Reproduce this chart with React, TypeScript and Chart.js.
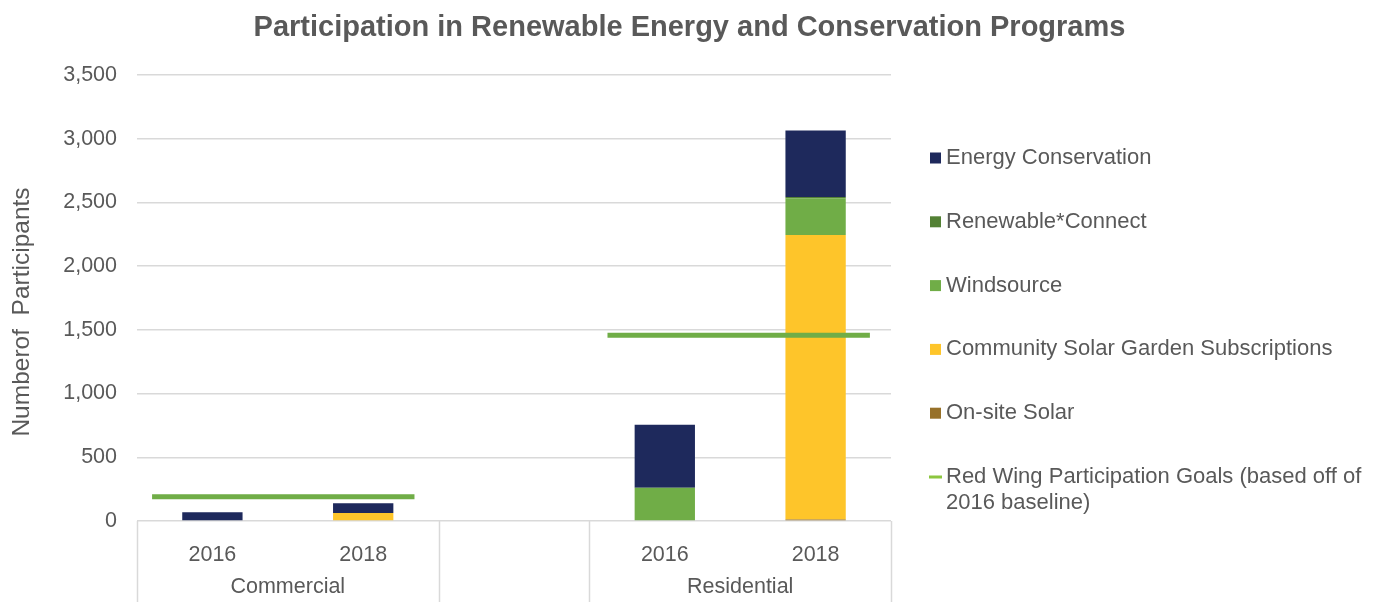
import React, { useEffect, useRef } from "react";
import { Chart, registerables } from "chart.js";

Chart.register(...registerables);

const categories = ["2016", "2018", "", "2016", "2018"];
const groupNames = ["Commercial", "", "Residential"];
const groupSpans = [
  [0, 1],
  [2, 2],
  [3, 4],
];

const onSiteSolar = [0, 5, null, 0, 12];
const communitySolar = [0, 58, null, 0, 2233];
const windsource = [0, 0, null, 261, 288];
const renewableConnect = [0, 0, null, 0, 10];
const energyConservation = [68, 76, null, 495, 521];

const goalValues = [190, 1458];
const goalFrom = [-0.4, 2.62];
const goalTo = [1.34, 4.36];

const seriesNames = [
  "On-site Solar",
  "Community Solar Garden Subscriptions",
  "Windsource",
  "Renewable*Connect",
  "Energy Conservation",
];
const seriesColors = ["#977129", "#fec52a", "#70ad47", "#538135", "#1e295c"];
const goalName = "Red Wing Participation Goals (based off of 2016 baseline)";
const goalLegendLines = ["Red Wing Participation Goals (based off of", "2016 baseline)"];
const goalColor = "#70ad47";
const goalLegendColor = "#8cc63f";
const chartTitle = "Participation in Renewable Energy and Conservation Programs";
const yTitle = "Numberof  Participants";

const FONT = "'Liberation Sans', Arial, sans-serif";
const TEXT = "#595959";
const GRID = "#d9d9d9";

const axisDecor = {
  id: "axisDecor",
  afterDraw(chart: any) {
    const ctx = chart.ctx;
    const x = chart.scales.x;
    const area = chart.chartArea;
    const bottom = chart.height;
    const step = x.getPixelForValue(1) - x.getPixelForValue(0);
    ctx.save();
    ctx.strokeStyle = GRID;
    ctx.lineWidth = 1.5;
    const bounds = new Set<number>();
    groupSpans.forEach((s) => {
      bounds.add(s[0] - 0.5);
      bounds.add(s[1] + 0.5);
    });
    bounds.forEach((b) => {
      const px = Math.round(x.getPixelForValue(0) + b * step) + 0.5;
      ctx.beginPath();
      ctx.moveTo(px, area.bottom);
      ctx.lineTo(px, bottom);
      ctx.stroke();
    });
    ctx.fillStyle = TEXT;
    ctx.font = `21.5px ${FONT}`;
    ctx.textAlign = "center";
    ctx.textBaseline = "middle";
    groupSpans.forEach((s, i) => {
      if (!groupNames[i]) return;
      const cx = (x.getPixelForValue(s[0]) + x.getPixelForValue(s[1])) / 2;
      ctx.fillText(groupNames[i], cx, 587);
    });
    // title centred on the whole canvas
    ctx.font = `bold 29px ${FONT}`;
    ctx.fillText(chartTitle, chart.width / 2, 28);
    // rotated y-axis title
    ctx.save();
    ctx.translate(22, 312);
    ctx.rotate(-Math.PI / 2);
    ctx.font = `24.5px ${FONT}`;
    ctx.fillText(yTitle, 0, 0);
    ctx.restore();
    ctx.restore();
  },
};

const legendPlugin = {
  id: "customLegend",
  afterDraw(chart: any) {
    const ctx = chart.ctx;
    ctx.save();
    ctx.font = `22px ${FONT}`;
    ctx.textBaseline = "middle";
    ctx.textAlign = "left";
    const boxX = 930;
    const textX = 946;
    const startY = 158;
    const gap = 63.8;
    const items = seriesNames.map((n, i) => ({ n, c: seriesColors[i] })).reverse();
    items.forEach((it, i) => {
      const y = startY + i * gap;
      ctx.fillStyle = it.c;
      ctx.fillRect(boxX, y - 5.5, 11, 11);
      ctx.fillStyle = TEXT;
      ctx.fillText(it.n, textX, y);
    });
    const gy = startY + items.length * gap;
    ctx.fillStyle = goalLegendColor;
    ctx.fillRect(boxX - 1, gy - 1.5, 13, 3);
    ctx.fillStyle = TEXT;
    goalLegendLines.forEach((l, i) => ctx.fillText(l, textX, gy + i * 26));
    ctx.restore();
  },
};

export default function App() {
  const ref = useRef<HTMLCanvasElement>(null);
  useEffect(() => {
    if (!ref.current) return;
    const barSets = [onSiteSolar, communitySolar, windsource, renewableConnect, energyConservation].map(
      (d, i) => ({
        type: "bar" as const,
        label: seriesNames[i],
        data: d,
        backgroundColor: seriesColors[i],
        borderWidth: 0,
        barPercentage: 0.4,
        categoryPercentage: 1,
        grouped: false,
        xAxisID: "x",
        order: 2,
      })
    );
    const goalData: any[] = [];
    goalValues.forEach((v, i) => {
      if (i > 0) goalData.push({ x: (goalTo[i - 1] + goalFrom[i]) / 2, y: null });
      goalData.push({ x: goalFrom[i], y: v });
      goalData.push({ x: goalTo[i], y: v });
    });
    const chart = new Chart(ref.current, {
      type: "bar",
      data: {
        labels: categories,
        datasets: [
          ...barSets,
          {
            type: "line" as const,
            label: goalName,
            data: goalData,
            xAxisID: "x2",
            borderColor: goalColor,
            borderWidth: 5,
            pointRadius: 0,
            spanGaps: false,
            borderCapStyle: "butt",
            order: 1,
          } as any,
        ],
      },
      options: {
        animation: false,
        responsive: true,
        maintainAspectRatio: false,
        layout: { padding: { left: 0, right: 488, top: 75, bottom: 0 } },
        plugins: {
          legend: { display: false },
          tooltip: { enabled: false },
          title: { display: false },
        },
        scales: {
          x: {
            type: "category",
            stacked: true,
            offset: true,
            grid: { display: false },
            border: { display: false },
            ticks: { color: TEXT, font: { family: FONT, size: 21.5 }, padding: 13, maxRotation: 0 },
            afterFit: (s: any) => {
              s.height = 81;
            },
          },
          x2: {
            type: "linear",
            display: false,
            offset: false,
            grid: { offset: false },
            min: -0.5,
            max: 4.5,
          },
          y: {
            stacked: true,
            min: 0,
            max: 3500,
            ticks: {
              stepSize: 500,
              color: TEXT,
              font: { family: FONT, size: 21.5 },
              padding: 20,
              callback: (v: any) => Number(v).toLocaleString("en-US"),
            },
            grid: { color: GRID, lineWidth: 1.5, drawTicks: false },
            border: { display: false },
            title: { display: false },
            afterFit: (s: any) => {
              s.width = 137;
            },
          },
        },
      },
      plugins: [axisDecor, legendPlugin],
    });
    return () => chart.destroy();
  }, []);
  return (
    <div style={{ position: "fixed", left: 0, top: 0, width: 1379, height: 602, background: "#fff" }}>
      <canvas ref={ref} />
    </div>
  );
}
